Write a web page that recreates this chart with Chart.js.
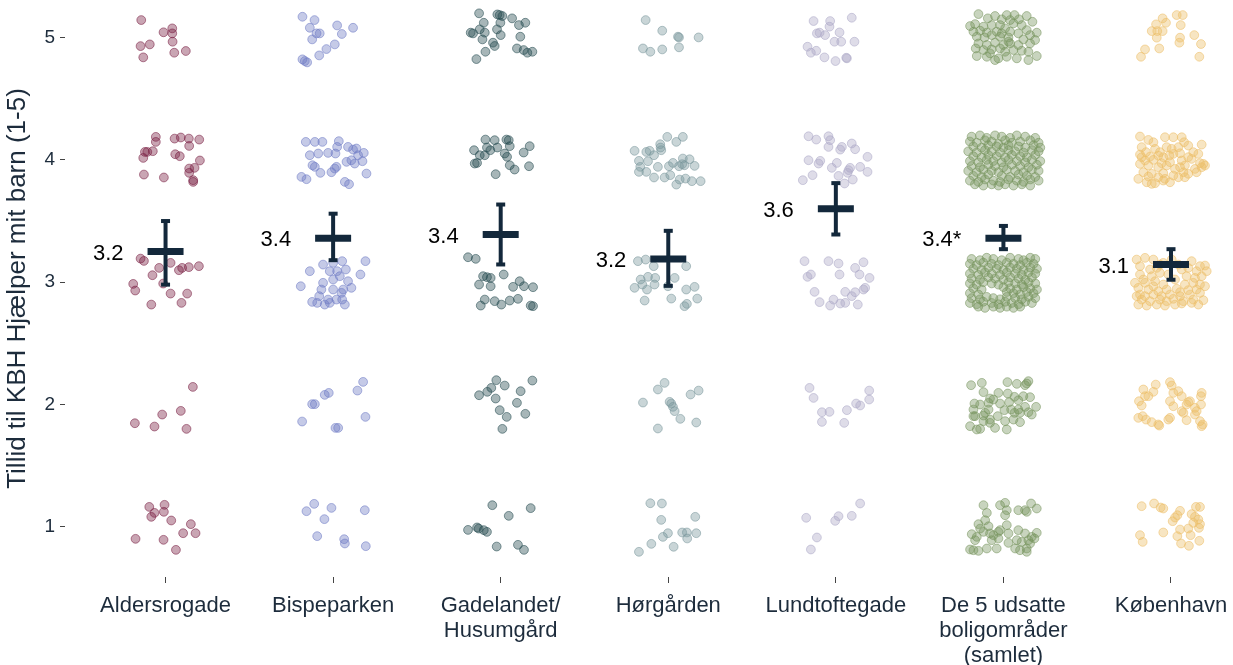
<!DOCTYPE html>
<html>
<head>
<meta charset="utf-8">
<script src="https://cdn.jsdelivr.net/npm/chart.js@4.4.1/dist/chart.umd.min.js"></script>
<style>
  html, body { margin: 0; padding: 0; background: #ffffff; }
  #wrap { width: 1233px; height: 665px; position: relative; }
</style>
</head>
<body>
<div id="wrap"><canvas id="c"></canvas></div>
<script>
// ---------- DATA ----------
const categories = [
  "Aldersrogade",
  "Bispeparken",
  ["Gadelandet/", "Husumgård"],
  "Hørgården",
  "Lundtoftegade",
  ["De 5 udsatte", "boligområder", "(samlet)"],
  "København"
];
const yTickValues = [1, 2, 3, 4, 5];
const yAxisTitle = "Tillid til KBH Hjælper mit barn (1-5)";

const means      = [3.25, 3.36, 3.39, 3.19, 3.60, 3.36, 3.145];
const ciLow      = [2.98, 3.18, 3.145, 2.97, 3.39, 3.27, 3.02];
const ciHigh     = [3.50, 3.56, 3.635, 3.42, 3.81, 3.46, 3.27];
const meanLabels = ["3.2", "3.4", "3.4", "3.2", "3.6", "3.4*", "3.1"];

// Jittered answers: [horizontal jitter (category units), answer value incl. vertical jitter]
const ptsAldersrogade = [
  [-0.145,5.143],[-0.012,5.043],[0.040,5.075],[0.040,5.034],[-0.149,4.930],[-0.094,4.944],[0.042,4.966],[-0.133,4.838],[0.052,4.876],[0.121,4.890],
  [-0.058,4.188],[-0.058,4.147],[0.054,4.174],[0.091,4.183],[0.139,4.174],[0.201,4.166],[0.141,4.114],[-0.123,4.065],[-0.076,4.071],[-0.109,4.065],
  [-0.133,4.016],[0.058,4.046],[0.085,4.030],[0.205,3.995],[0.141,3.929],[0.173,3.935],[-0.129,3.880],[-0.010,3.856],[0.141,3.894],[0.165,3.834],[0.165,3.820],
  [-0.149,3.193],[-0.129,3.174],[-0.038,3.117],[0.030,3.158],[0.099,3.117],[0.139,3.123],[0.199,3.131],[0.080,3.098],[-0.078,3.057],[-0.014,2.989],
  [-0.193,2.986],[-0.181,2.932],[0.030,2.907],[0.129,2.907],[-0.085,2.817],[0.095,2.831],
  [0.163,2.144],[-0.020,1.918],[0.091,1.948],[-0.183,1.847],[-0.066,1.820],[0.125,1.801],
  [-0.097,1.163],[-0.006,1.180],[-0.066,1.114],[-0.010,1.123],[-0.085,1.082],[0.034,1.052],[0.151,1.022],[-0.179,0.902],[-0.012,0.894],[0.105,0.948],[0.179,0.948],[0.062,0.812]
];
const ptsBispeparken = [
  [-0.183,5.170],[-0.111,5.143],[-0.139,5.080],[0.024,5.099],[0.119,5.080],[-0.099,5.034],[-0.080,5.034],[0.052,5.029],[-0.125,4.985],[0.010,4.944],
  [-0.040,4.906],[-0.083,4.854],[-0.183,4.822],[-0.169,4.808],[-0.155,4.797],
  [-0.163,4.147],[-0.109,4.147],[-0.064,4.147],[0.034,4.153],[0.089,4.106],[0.119,4.084],[0.024,4.106],[-0.139,4.038],[-0.089,4.052],[-0.030,4.057],
  [0.014,4.052],[0.149,4.038],[0.183,4.057],[0.175,3.989],[0.080,3.984],[0.129,3.970],[0.020,3.943],[-0.123,3.956],[-0.109,3.943],[-0.076,3.894],
  [-0.010,3.899],[0.010,3.929],[-0.189,3.861],[-0.159,3.842],[0.199,3.888],[0.070,3.820],[0.095,3.801],[0.139,4.093],[0.109,3.997],
  [-0.060,3.144],[0.000,3.158],[0.054,3.172],[0.193,3.172],[-0.139,3.090],[-0.020,3.090],[0.024,3.090],[0.076,3.104],[0.163,3.063],[0.040,3.049],
  [0.000,3.022],[-0.060,2.995],[0.089,3.008],[-0.193,2.967],[-0.070,2.940],[0.000,2.940],[0.060,2.940],[0.109,2.954],[0.050,2.913],[-0.083,2.886],
  [-0.030,2.858],[0.020,2.858],[-0.125,2.839],[-0.095,2.831],[-0.050,2.817],[-0.020,2.831],[0.070,2.817],[0.054,2.858],
  [0.179,2.185],[0.145,2.114],[-0.026,2.095],[-0.050,2.079],[-0.125,2.003],[-0.109,2.003],[0.193,1.899],[-0.185,1.861],[0.014,1.809],[0.030,1.809],
  [-0.113,1.188],[-0.159,1.128],[-0.010,1.155],[0.189,1.136],[-0.052,1.063],[-0.095,0.924],[0.066,0.899],[0.070,0.864],[0.195,0.842]
];
const ptsGadelandet = [
  [-0.129,5.198],[-0.020,5.189],[-0.006,5.184],[0.010,5.176],[0.068,5.157],[-0.101,5.121],[-0.002,5.121],[0.109,5.102],[0.147,5.121],[-0.125,5.067],
  [-0.022,5.067],[-0.179,5.040],[-0.165,5.034],[-0.095,5.040],[0.000,5.020],[0.117,5.007],[-0.109,4.985],[-0.046,4.958],[-0.036,4.931],[0.097,4.911],
  [0.137,4.898],[0.159,4.876],[0.189,4.884],[-0.091,4.884],[-0.145,4.824],
  [-0.091,4.166],[-0.036,4.161],[0.034,4.166],[0.048,4.161],[-0.159,4.079],[-0.082,4.101],[-0.020,4.101],[0.054,4.112],[0.173,4.112],[-0.125,4.038],
  [-0.095,4.038],[-0.062,4.079],[0.024,4.052],[0.137,4.060],[-0.155,3.970],[-0.141,3.975],[0.038,4.025],[0.054,3.956],[0.083,3.921],[0.169,3.948],[-0.030,3.883],
  [-0.195,3.204],[-0.149,3.191],[-0.105,3.049],[-0.082,3.041],[-0.060,3.035],[0.018,3.063],[-0.129,2.981],[-0.060,2.967],[0.074,2.962],[0.113,3.008],
  [0.139,2.967],[0.193,2.959],[-0.095,2.858],[-0.036,2.845],[0.004,2.817],[0.054,2.850],[0.103,2.864],[-0.119,2.809],[0.179,2.809],[0.193,2.804],
  [-0.026,2.199],[0.189,2.196],[0.024,2.155],[-0.056,2.136],[-0.080,2.104],[-0.129,2.076],[0.119,2.109],[-0.030,2.049],[0.097,2.014],[-0.006,1.954],
  [0.147,1.924],[0.036,1.899],[0.010,1.801],
  [-0.050,1.177],[0.179,1.153],[0.048,1.090],[-0.195,0.975],[-0.141,0.995],[-0.131,0.986],[-0.101,0.973],[-0.082,0.959],[-0.024,0.839],[0.103,0.853],[0.139,0.812]
];
const ptsHorgarden = [
  [-0.135,5.143],[-0.036,5.056],[0.058,5.007],[0.064,5.001],[0.181,5.001],[-0.151,4.911],[-0.107,4.884],[-0.036,4.903],[0.064,4.920],
  [-0.006,4.188],[0.087,4.188],[0.048,4.147],[-0.048,4.128],[-0.046,4.101],[-0.201,4.074],[-0.131,4.065],[-0.111,4.074],[-0.042,4.079],[-0.085,4.038],
  [0.087,4.011],[0.127,4.005],[-0.175,3.992],[-0.121,3.989],[0.028,3.975],[0.083,3.965],[0.097,3.956],[0.157,3.951],[-0.167,3.943],[-0.175,3.902],
  [-0.131,3.902],[-0.062,3.943],[0.004,3.948],[0.064,3.948],[-0.085,3.856],[-0.022,3.856],[0.012,3.875],[0.068,3.839],[0.103,3.847],[0.141,3.826],
  [0.193,3.826],[0.048,3.798],
  [-0.181,3.172],[-0.135,3.185],[-0.087,3.131],[0.107,3.131],[-0.165,3.022],[-0.121,3.044],[-0.078,3.035],[-0.155,2.981],[-0.201,2.954],[-0.127,2.940],
  [-0.082,2.981],[-0.002,2.967],[0.038,3.035],[0.107,2.940],[0.157,2.962],[-0.141,2.850],[0.018,2.866],[0.173,2.866],[0.111,2.823],[0.097,2.804],
  [-0.022,2.177],[-0.062,2.123],[-0.151,2.016],[0.008,2.022],[0.018,2.008],[0.028,1.981],[0.038,1.946],[0.133,2.082],[0.181,2.114],[0.072,1.883],
  [0.167,1.853],[-0.062,1.804],
  [-0.107,1.193],[-0.038,1.191],[-0.042,1.057],[0.161,1.082],[-0.002,0.948],[-0.032,0.918],[0.083,0.954],[0.111,0.954],[0.113,0.905],[0.167,0.948],
  [-0.101,0.861],[0.032,0.837],[-0.175,0.796]
];
const ptsLundtoftegade = [
  [-0.133,5.135],[-0.034,5.135],[0.095,5.162],[-0.038,5.089],[-0.113,5.034],[-0.097,5.040],[-0.064,5.020],[0.022,5.042],[-0.008,4.966],[0.032,4.966],
  [0.111,4.966],[-0.169,4.925],[-0.149,4.876],[-0.117,4.892],[-0.068,4.838],[-0.002,4.808],[0.062,4.835],[0.066,4.830],
  [-0.163,4.193],[-0.117,4.166],[-0.044,4.193],[-0.034,4.161],[-0.044,4.106],[0.036,4.106],[0.095,4.134],[0.115,4.087],[0.026,4.084],[0.189,4.025],
  [-0.163,3.997],[-0.093,3.992],[-0.103,3.970],[0.006,3.975],[-0.024,3.935],[0.085,3.935],[0.076,3.916],[0.070,3.894],[0.145,3.943],[0.189,3.902],
  [-0.139,3.875],[-0.197,3.834],[0.016,3.869],[0.101,3.839],[0.052,3.807],
  [-0.187,3.172],[-0.044,3.172],[0.016,3.153],[0.165,3.163],[0.115,3.117],[-0.169,3.044],[-0.149,3.063],[0.022,3.063],[0.141,3.063],[0.201,3.035],
  [0.175,2.954],[0.165,2.940],[-0.127,2.921],[0.056,2.921],[0.115,2.918],[0.095,2.886],[-0.014,2.858],[-0.097,2.837],[-0.034,2.809],[0.026,2.826],
  [0.056,2.831],[0.131,2.817],
  [-0.157,2.136],[-0.133,2.054],[-0.083,1.937],[-0.038,1.940],[-0.083,1.858],[0.066,1.954],[0.050,1.850],[0.121,2.008],[0.145,1.992],[0.199,2.114],[0.199,2.041],
  [-0.177,1.074],[-0.113,0.913],[-0.149,0.815],[-0.004,1.049],[0.016,1.087],[0.095,1.090],[0.145,1.191]
];
const ptsDe5 = [
  [-0.149,5.192],[-0.050,5.176],[0.020,5.184],[0.066,5.184],[0.139,5.176],[-0.093,5.157],[-0.010,5.149],[0.040,5.143],[0.093,5.149],[0.173,5.129],
  [-0.199,5.094],[-0.169,5.110],[-0.119,5.089],[-0.070,5.102],[-0.020,5.102],[0.010,5.075],[0.060,5.116],[0.109,5.102],[0.139,5.061],[0.199,5.040],
  [-0.179,5.048],[-0.139,5.056],[-0.099,5.040],[-0.040,5.048],[-0.010,5.034],[0.040,5.048],[0.089,5.034],[0.159,5.020],[-0.159,5.007],[-0.113,5.001],
  [-0.070,5.020],[-0.020,5.007],[0.030,5.001],[0.119,4.985],[0.189,4.980],[-0.149,4.952],[-0.099,4.939],[-0.050,4.958],[0.000,4.939],[0.040,4.952],
  [0.089,4.939],[0.159,4.952],[-0.165,4.911],[-0.119,4.898],[-0.070,4.903],[-0.020,4.911],[0.010,4.884],[0.060,4.898],[0.109,4.892],[0.149,4.884],
  [-0.159,4.849],[-0.099,4.843],[-0.050,4.816],[-0.030,4.830],[0.020,4.843],[0.080,4.830],[0.149,4.816],[0.199,4.849],[-0.080,4.871],[0.030,4.966],
  [-0.19,4.19],[-0.14,4.20],[-0.10,4.18],[-0.05,4.20],[-0.01,4.19],[0.04,4.18],[0.08,4.20],[0.13,4.19],[0.19,4.18],
  [-0.20,4.15],[-0.16,4.14],[-0.11,4.16],[-0.07,4.15],[-0.03,4.13],[0.01,4.16],[0.05,4.14],[0.10,4.15],[0.16,4.16],[0.21,4.14],
  [-0.18,4.11],[-0.13,4.10],[-0.09,4.12],[-0.04,4.11],[0.00,4.10],[0.03,4.12],[0.09,4.11],[0.13,4.10],[0.18,4.12],[0.22,4.10],
  [-0.21,4.07],[-0.16,4.06],[-0.11,4.08],[-0.07,4.07],[-0.02,4.06],[0.03,4.08],[0.07,4.07],[0.12,4.06],[0.17,4.08],[0.21,4.07],
  [-0.18,4.03],[-0.13,4.02],[-0.09,4.04],[-0.04,4.03],[0.01,4.02],[0.05,4.04],[0.10,4.03],[0.14,4.02],[0.19,4.04],
  [-0.20,3.99],[-0.15,3.98],[-0.10,4.00],[-0.06,3.99],[-0.01,3.98],[0.03,4.00],[0.08,3.99],[0.13,3.98],[0.17,4.00],[0.22,3.99],
  [-0.19,3.95],[-0.14,3.94],[-0.09,3.96],[-0.05,3.95],[0.00,3.94],[0.05,3.96],[0.10,3.95],[0.15,3.94],[0.20,3.96],
  [-0.21,3.91],[-0.16,3.90],[-0.12,3.92],[-0.07,3.91],[-0.03,3.90],[0.02,3.92],[0.07,3.91],[0.12,3.90],[0.17,3.92],[0.21,3.91],
  [-0.18,3.87],[-0.13,3.86],[-0.09,3.88],[-0.01,3.87],[0.04,3.86],[0.09,3.88],[0.14,3.87],[0.19,3.86],
  [-0.20,3.83],[-0.15,3.82],[-0.11,3.84],[-0.06,3.83],[-0.02,3.82],[0.03,3.84],[0.08,3.83],[0.12,3.82],[0.16,3.84],[0.21,3.83],
  [-0.17,3.80],[-0.12,3.79],[-0.07,3.80],[-0.03,3.79],[0.01,3.80],[0.06,3.79],[0.11,3.80],[0.16,3.79],
  [-0.19,3.19],[-0.14,3.18],[-0.10,3.20],[-0.06,3.19],[-0.01,3.18],[0.04,3.20],[0.09,3.19],[0.12,3.18],[0.16,3.20],[0.19,3.19],
  [-0.20,3.15],[-0.16,3.14],[-0.12,3.16],[-0.07,3.15],[-0.03,3.14],[0.02,3.16],[0.06,3.15],[0.10,3.14],[0.14,3.16],[0.18,3.15],
  [-0.18,3.11],[-0.13,3.10],[-0.09,3.12],[-0.04,3.11],[0.00,3.10],[0.04,3.12],[0.08,3.11],[0.12,3.10],[0.16,3.12],[0.20,3.11],
  [-0.20,3.07],[-0.15,3.06],[-0.11,3.08],[-0.07,3.07],[-0.02,3.06],[0.02,3.08],[0.07,3.07],[0.11,3.06],[0.15,3.08],[0.19,3.07],
  [-0.19,3.03],[-0.14,3.02],[-0.09,3.04],[-0.05,3.03],[0.00,3.02],[0.04,3.04],[0.09,3.03],[0.13,3.02],[0.17,3.04],
  [-0.20,2.99],[-0.16,2.98],[-0.12,3.00],[-0.07,2.99],[-0.03,2.98],[0.03,3.00],[0.07,2.99],[0.11,2.98],[0.15,3.00],[0.19,2.99],
  [-0.18,2.95],[-0.13,2.94],[0.00,2.96],[0.04,2.95],[0.08,2.94],[0.12,2.96],[0.16,2.95],[0.20,2.94],
  [-0.20,2.91],[-0.15,2.90],[0.02,2.92],[0.06,2.91],[0.10,2.90],[0.14,2.92],[0.18,2.91],
  [-0.19,2.87],[-0.14,2.86],[-0.10,2.88],[-0.06,2.87],[-0.02,2.86],[0.02,2.88],[0.07,2.87],[0.11,2.86],[0.15,2.88],[0.19,2.87],
  [-0.20,2.83],[-0.16,2.82],[-0.12,2.84],[-0.07,2.83],[-0.03,2.82],[0.01,2.84],[0.05,2.83],[0.09,2.82],[0.13,2.84],[0.17,2.83],
  [-0.15,2.80],[-0.11,2.79],[-0.06,2.80],[-0.02,2.79],[0.02,2.80],[0.06,2.79],[0.10,2.80],
  [-0.193,2.158],[-0.129,2.177],[0.024,2.183],[0.080,2.169],[0.129,2.158],[0.149,2.191],[0.139,2.172],[-0.119,2.101],[-0.080,2.049],[-0.030,2.095],
  [0.026,2.090],[0.066,2.063],[0.119,2.068],[0.159,2.060],[-0.089,2.014],[-0.060,2.041],[-0.173,2.008],[-0.139,2.000],[-0.179,1.959],[-0.089,1.959],
  [0.006,1.954],[0.046,1.959],[0.089,1.959],[0.099,1.932],[0.129,1.981],[0.195,1.981],[0.169,1.918],[-0.179,1.905],[-0.119,1.910],[-0.080,1.877],
  [-0.034,1.905],[0.010,1.864],[0.060,1.877],[0.099,1.856],[0.149,1.937],[-0.119,1.864],[-0.199,1.823],[-0.139,1.801],[-0.159,1.796],[-0.050,1.809],
  [0.020,1.796],[-0.080,1.850],[0.066,1.932],[0.089,2.035],[0.034,2.019],[-0.020,2.008],[-0.109,1.932],[-0.169,1.905],
  [-0.119,1.177],[-0.099,1.114],[-0.020,1.177],[0.010,1.196],[0.020,1.136],[0.089,1.136],[0.129,1.136],[0.165,1.191],[0.199,1.150],[0.139,1.123],
  [0.010,1.095],[-0.149,1.022],[-0.139,0.986],[-0.089,1.005],[-0.030,0.959],[-0.080,0.946],[-0.020,0.973],[0.020,1.014],[0.089,0.973],[0.129,0.946],
  [0.169,0.918],[0.199,0.951],[-0.189,0.940],[-0.159,0.918],[-0.060,0.932],[-0.030,0.905],[0.030,0.946],[0.080,0.891],[0.109,0.877],[0.149,0.891],
  [-0.199,0.815],[-0.179,0.809],[-0.149,0.804],[-0.099,0.823],[-0.040,0.823],[0.030,0.869],[0.070,0.823],[0.099,0.809],[0.139,0.823],[0.159,0.864],
  [0.185,0.905],[-0.109,1.054],[-0.119,0.959],[-0.070,0.891],[-0.169,0.891],[0.139,0.796]
];
const ptsKobenhavn = [
  [-0.050,5.157],[-0.089,5.108],[-0.030,5.121],[0.034,5.184],[0.070,5.184],[0.058,5.102],[-0.115,5.053],[-0.082,5.053],[-0.050,5.053],[-0.085,4.999],
  [0.054,4.999],[0.050,4.958],[0.139,5.020],[0.179,4.947],[-0.070,4.911],[-0.155,4.903],[-0.179,4.843],[0.169,4.843],
  [-0.185,4.191],[-0.135,4.163],[-0.105,4.144],[-0.036,4.185],[0.014,4.185],[0.064,4.185],[0.078,4.144],[0.183,4.125],[-0.175,4.104],[-0.149,4.063],
  [-0.095,4.090],[-0.026,4.104],[0.004,4.090],[0.044,4.104],[0.103,4.117],[-0.185,4.044],[-0.125,4.027],[-0.076,4.035],[-0.046,4.022],[0.014,4.049],
  [0.054,4.054],[0.133,4.063],[0.163,4.049],[-0.155,3.995],[-0.105,4.000],[-0.056,3.973],[-0.006,3.981],[0.064,3.995],[0.123,4.008],[0.173,3.973],
  [0.203,3.954],[-0.185,3.967],[-0.135,3.954],[-0.076,3.940],[-0.026,3.954],[0.024,3.926],[0.083,3.954],[0.143,3.926],[0.193,3.967],[-0.165,3.899],
  [-0.115,3.886],[-0.046,3.891],[0.014,3.872],[0.074,3.899],[0.103,3.886],[0.153,3.899],[-0.195,3.845],[-0.145,3.817],[-0.095,3.809],[-0.046,3.831],
  [-0.036,3.845],[-0.006,3.817],[0.044,3.858],[0.083,3.858],[-0.135,3.864],[-0.076,3.858],[-0.175,4.022],[-0.010,4.035],[0.103,4.022],[0.054,3.940],
  [-0.066,4.063],[-0.115,3.804],[0.183,3.940],
  [-0.205,3.185],[-0.155,3.199],[-0.105,3.185],[-0.046,3.158],[0.123,3.172],[0.173,3.131],[0.203,3.136],[-0.185,3.131],[-0.125,3.104],[-0.085,3.117],
  [0.064,3.104],[0.103,3.117],[0.153,3.090],[-0.185,3.063],[-0.115,3.049],[-0.066,3.076],[0.093,3.049],[0.143,3.035],[0.183,3.049],[-0.155,2.995],
  [-0.095,3.008],[-0.046,2.981],[0.083,2.981],[0.133,2.995],[0.173,2.981],[-0.195,2.954],[-0.135,2.940],[-0.076,2.926],[-0.026,2.940],[0.034,2.946],
  [0.103,2.935],[0.153,2.940],[-0.185,2.899],[-0.155,2.886],[-0.105,2.899],[-0.056,2.886],[-0.006,2.899],[0.054,2.886],[0.113,2.899],[0.173,2.913],
  [-0.175,2.858],[-0.125,2.845],[-0.066,2.858],[-0.026,2.845],[0.014,2.864],[0.074,2.845],[0.133,2.858],[0.193,2.853],[-0.195,2.817],[-0.145,2.809],
  [-0.085,2.817],[-0.036,2.809],[0.024,2.817],[0.064,2.826],[0.123,2.831],[0.163,2.817],[-0.165,3.022],[0.024,3.022],[-0.016,3.063],[-0.105,2.967],
  [0.203,2.967],[0.054,2.918],[-0.205,2.886],[-0.215,2.995],[0.213,3.090],[0.004,3.185],[0.044,3.144],[-0.066,3.144],
  [-0.091,2.163],[-0.006,2.183],[0.004,2.155],[-0.105,2.104],[-0.165,2.123],[-0.135,2.068],[-0.155,2.068],[-0.191,2.027],[-0.175,1.992],[-0.006,2.027],
  [0.014,2.095],[0.044,2.109],[0.064,2.068],[0.103,2.019],[0.093,2.000],[0.143,1.973],[0.183,2.095],[0.179,2.068],[0.179,2.000],[0.014,1.986],
  [0.064,1.946],[0.074,1.932],[0.143,1.918],[-0.195,1.891],[-0.169,1.905],[-0.149,1.877],[-0.115,1.856],[-0.076,1.837],[-0.070,1.828],[-0.006,1.891],
  [-0.016,1.877],[0.093,1.872],[0.173,1.864],[0.183,1.823],[0.189,1.837],[0.113,2.027],[0.153,1.946],
  [-0.175,1.169],[-0.101,1.191],[-0.062,1.158],[-0.046,1.150],[0.054,1.131],[0.038,1.095],[0.010,1.046],[0.123,1.104],[0.149,1.163],[0.173,1.163],
  [0.143,1.082],[0.163,1.060],[0.173,1.022],[0.133,1.033],[-0.185,0.932],[-0.169,0.877],[-0.046,0.954],[0.054,0.978],[0.038,0.924],[0.103,0.986],
  [0.117,0.932],[0.060,0.864],[0.107,0.845],[0.169,0.886],[0.024,1.076],[0.167,0.992]
];

const groupPoints = [ptsAldersrogade, ptsBispeparken, ptsGadelandet, ptsHorgarden, ptsLundtoftegade, ptsDe5, ptsKobenhavn];
const groupColors = ["120,30,65", "110,122,196", "35,72,78", "120,150,155", "172,168,198", "118,148,92", "236,190,102"];

// ---------- CHART ----------
const navy = "#13283b";
const axisText = "#1d2c3c";
const FONT = "'Liberation Sans', Arial, Helvetica, sans-serif";

const datasets = [];
groupPoints.forEach((pts, i) => {
  datasets.push({
    type: "scatter",
    data: pts.map(p => ({ x: i + p[0], y: p[1] })),
    backgroundColor: `rgba(${groupColors[i]},0.40)`,
    borderColor: `rgba(${groupColors[i]},0.55)`,
    borderWidth: 1,
    pointRadius: 4.4,
    pointHoverRadius: 4.4,
    order: 3
  });
});
means.forEach((m, i) => {
  datasets.push({
    type: "line",
    data: [{ x: i, y: ciLow[i] }, { x: i, y: ciHigh[i] }],
    borderColor: navy,
    borderWidth: 4,
    pointStyle: "line",
    pointRadius: 4.5,
    pointBorderWidth: 4,
    pointBorderColor: navy,
    pointHoverRadius: 4.5,
    showLine: true,
    fill: false,
    order: 2
  });
  datasets.push({
    type: "scatter",
    data: [{ x: i, y: m }],
    pointStyle: "line",
    pointRadius: 18,
    pointHoverRadius: 18,
    borderColor: navy,
    pointBorderWidth: 7,
    borderWidth: 7,
    order: 1
  });
});

const meanLabelPlugin = {
  id: "meanLabels",
  afterDatasetsDraw(chart) {
    const { ctx, scales } = chart;
    ctx.save();
    ctx.font = `22px ${FONT}`;
    ctx.fillStyle = "#000000";
    ctx.textAlign = "right";
    ctx.textBaseline = "middle";
    meanLabels.forEach((t, i) => {
      ctx.fillText(t, scales.x.getPixelForValue(i) - 42, scales.y.getPixelForValue(means[i]) + 2);
    });
    ctx.restore();
  }
};

new Chart(document.getElementById("c"), {
  data: { datasets },
  options: {
    responsive: true,
    maintainAspectRatio: false,
    animation: false,
    events: [],
    layout: { padding: 0, autoPadding: false },
    plugins: { legend: { display: false }, tooltip: { enabled: false } },
    scales: {
      x: {
        type: "linear",
        min: -0.6,
        max: 6.37,
        border: { display: false },
        grid: { drawOnChartArea: false, drawTicks: true, tickLength: 6, tickColor: "#444444", tickWidth: 1 },
        afterBuildTicks: s => { s.ticks = categories.map((c, i) => ({ value: i })); },
        afterFit: s => { s.height = 88; s.paddingLeft = 0; s.paddingRight = 0; },
        ticks: {
          autoSkip: false, maxRotation: 0, minRotation: 0, padding: 11,
          color: axisText,
          font: { family: FONT, size: 22, lineHeight: 1.13 },
          callback: v => categories[Math.round(v)]
        }
      },
      y: {
        type: "linear",
        min: 0.59,
        max: 5.307,
        border: { display: false },
        grid: { drawOnChartArea: false, drawTicks: true, tickLength: 5, tickColor: "#444444", tickWidth: 1 },
        afterBuildTicks: s => { s.ticks = yTickValues.map(v => ({ value: v })); },
        afterFit: s => { s.width = 65; s.paddingTop = 0; s.paddingBottom = 0; },
        title: { display: true, text: yAxisTitle, color: axisText, font: { family: FONT, size: 26 }, padding: { top: 2, bottom: 2 } },
        ticks: { color: axisText, font: { family: FONT, size: 19 }, padding: 5, callback: v => String(v) }
      }
    }
  },
  plugins: [meanLabelPlugin]
});
</script>
</body>
</html>
